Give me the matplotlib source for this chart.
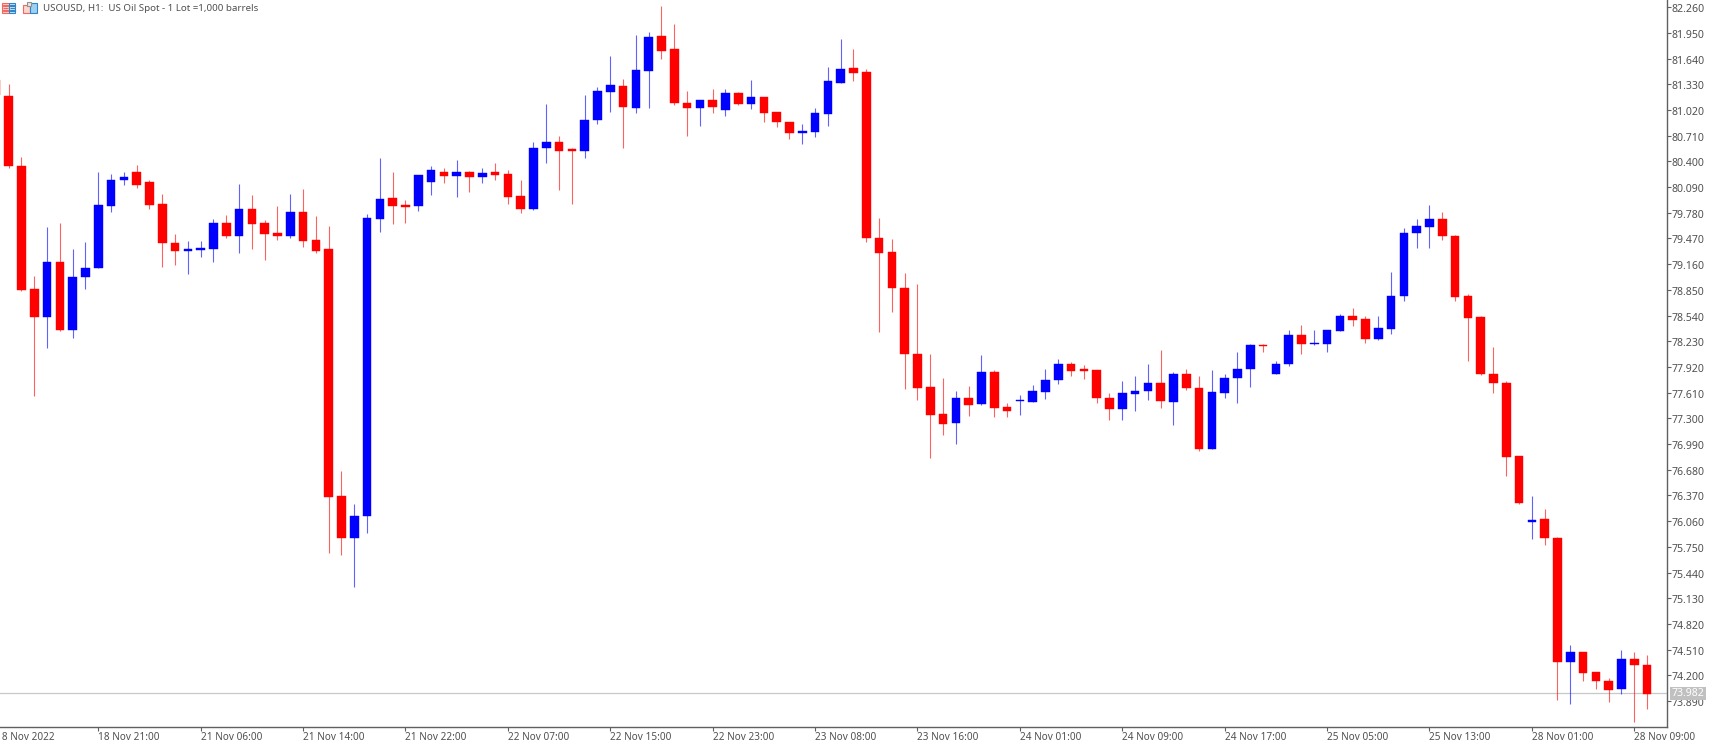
import matplotlib
matplotlib.use("Agg")
import matplotlib.pyplot as plt
from matplotlib.patches import Rectangle
from matplotlib.transforms import ScaledTranslation

# first candle is the one cut off at the left edge
opens = [81.38, 81.19, 80.34, 78.86, 78.52, 79.18, 78.36, 79.00, 79.11, 79.86,
         80.17, 80.27, 80.15, 79.88, 79.41, 79.32, 79.33, 79.34, 79.65, 79.50,
         79.83, 79.65, 79.53, 79.50, 79.79, 79.45, 79.34, 76.36, 75.86, 76.12,
         79.71, 79.96, 79.87, 79.86, 80.15, 80.27, 80.22, 80.27, 80.21, 80.27,
         80.25, 79.98, 79.82, 80.56, 80.63, 80.55, 80.53, 80.90, 81.24, 81.31,
         81.04, 81.49, 81.91, 81.75, 81.10, 81.04, 81.14, 81.02, 81.23, 81.09,
         81.17, 80.99, 80.87, 80.74, 80.75, 80.97, 81.34, 81.52, 81.48, 79.48,
         79.31, 78.87, 78.08, 77.68, 77.35, 77.24, 77.55, 77.47, 77.86, 77.44,
         77.51, 77.50, 77.62, 77.76, 77.95, 77.89, 77.88, 77.55, 77.41, 77.59,
         77.63, 77.73, 77.50, 77.84, 77.67, 76.93, 77.61, 77.79, 77.89, 78.19,
         77.84, 77.95, 78.30, 78.20, 78.20, 78.35, 78.53, 78.50, 78.26, 78.38,
         78.77, 79.53, 79.61, 79.71, 79.50, 78.78, 78.52, 77.83, 77.73, 76.84,
         76.05, 76.08, 75.86, 74.36, 74.48, 74.24, 74.13, 74.03, 74.40, 74.32]
closes = [81.20, 80.34, 78.85, 78.52, 79.19, 78.37, 79.01, 79.11, 79.87, 80.18,
          80.21, 80.11, 79.87, 79.41, 79.32, 79.34, 79.35, 79.65, 79.50, 79.83,
          79.64, 79.52, 79.50, 79.79, 79.44, 79.32, 76.35, 75.86, 76.12, 79.72,
          79.95, 79.86, 79.85, 80.23, 80.30, 80.22, 80.27, 80.21, 80.26, 80.24,
          79.97, 79.82, 80.56, 80.63, 80.52, 80.52, 80.90, 81.25, 81.32, 81.05,
          81.50, 81.90, 81.73, 81.10, 81.04, 81.14, 81.05, 81.22, 81.09, 81.17,
          80.98, 80.87, 80.74, 80.76, 80.98, 81.37, 81.51, 81.47, 79.48, 79.30,
          78.87, 78.08, 77.67, 77.34, 77.23, 77.55, 77.46, 77.86, 77.43, 77.39,
          77.52, 77.63, 77.76, 77.95, 77.87, 77.87, 77.55, 77.41, 77.61, 77.63,
          77.73, 77.51, 77.84, 77.66, 76.93, 77.62, 77.79, 77.90, 78.19, 78.17,
          77.96, 78.30, 78.20, 78.21, 78.36, 78.53, 78.48, 78.26, 78.39, 78.78,
          79.54, 79.62, 79.71, 79.50, 78.76, 78.51, 77.83, 77.73, 76.83, 76.28,
          76.07, 75.86, 74.36, 74.48, 74.23, 74.13, 74.02, 74.40, 74.32, 73.98]
highs = [81.38, 81.33, 80.45, 79.02, 79.61, 79.65, 79.34, 79.43, 80.27, 80.25,
         80.27, 80.36, 80.17, 80.01, 79.52, 79.44, 79.44, 79.70, 79.75, 80.13,
         79.99, 79.69, 79.86, 80.00, 80.07, 79.74, 79.62, 76.66, 76.27, 79.77,
         80.44, 80.27, 79.93, 80.24, 80.34, 80.32, 80.42, 80.28, 80.32, 80.38,
         80.30, 80.17, 80.63, 81.09, 80.71, 80.56, 81.20, 81.30, 81.67, 81.39,
         81.92, 81.96, 82.27, 82.06, 81.25, 81.14, 81.27, 81.27, 81.24, 81.38,
         81.18, 80.99, 80.87, 80.85, 81.04, 81.54, 81.87, 81.75, 81.51, 79.72,
         79.46, 79.05, 78.92, 78.08, 77.79, 77.63, 77.69, 78.06, 77.88, 77.48,
         77.58, 77.70, 77.89, 78.01, 77.98, 77.94, 77.88, 77.61, 77.75, 77.81,
         77.95, 78.13, 77.86, 77.89, 77.81, 77.88, 77.84, 78.10, 78.20, 78.20,
         77.99, 78.36, 78.43, 78.36, 78.37, 78.56, 78.63, 78.53, 78.54, 79.07,
         79.60, 79.71, 79.87, 79.79, 79.51, 78.80, 78.53, 78.16, 77.75, 76.85,
         76.36, 76.21, 75.87, 74.57, 74.48, 74.24, 74.17, 74.51, 74.48, 74.45]
lows = [81.20, 80.32, 78.83, 77.57, 78.15, 78.35, 78.27, 78.86, 79.11, 79.79,
        80.11, 80.08, 79.82, 79.12, 79.15, 79.04, 79.24, 79.18, 79.47, 79.30,
        79.34, 79.21, 79.45, 79.47, 79.37, 79.29, 75.68, 75.65, 75.26, 75.92,
        79.55, 79.64, 79.66, 79.80, 79.99, 80.14, 79.97, 80.03, 80.14, 80.17,
        79.89, 79.78, 79.81, 80.38, 80.05, 79.89, 80.44, 80.85, 80.99, 80.56,
        80.98, 81.04, 81.63, 81.08, 80.70, 80.83, 80.98, 80.95, 81.08, 81.03,
        80.87, 80.81, 80.67, 80.61, 80.69, 80.83, 81.34, 81.37, 79.43, 78.34,
        78.58, 77.65, 77.52, 76.82, 77.10, 76.99, 77.33, 77.46, 77.32, 77.32,
        77.34, 77.50, 77.53, 77.71, 77.81, 77.77, 77.49, 77.28, 77.28, 77.39,
        77.52, 77.42, 77.22, 77.64, 76.91, 76.93, 77.55, 77.49, 77.68, 78.10,
        77.83, 77.93, 78.08, 78.18, 78.10, 78.35, 78.41, 78.21, 78.24, 78.32,
        78.72, 79.35, 79.36, 79.45, 78.72, 77.99, 77.82, 77.61, 76.60, 76.27,
        75.84, 75.77, 73.90, 73.85, 74.13, 74.04, 73.88, 73.98, 73.64, 73.79]

price_ticks = ["73.890", "74.200", "74.510", "74.820", "75.130", "75.440", "75.750", "76.060",
               "76.370", "76.680", "76.990", "77.300", "77.610", "77.920", "78.230", "78.540",
               "78.850", "79.160", "79.470", "79.780", "80.090", "80.400", "80.710", "81.020",
               "81.330", "81.640", "81.950", "82.260"]
time_labels = ["18 Nov 2022", "18 Nov 21:00", "21 Nov 06:00", "21 Nov 14:00", "21 Nov 22:00",
               "22 Nov 07:00", "22 Nov 15:00", "22 Nov 23:00", "23 Nov 08:00", "23 Nov 16:00",
               "24 Nov 01:00", "24 Nov 09:00", "24 Nov 17:00", "25 Nov 05:00", "25 Nov 13:00",
               "28 Nov 01:00", "28 Nov 09:00"]
last_price = 73.982

W, H = 1718, 746
FONT = "Noto Sans"
GREY = "#505050"

fig = plt.figure(figsize=(W / 100, H / 100), dpi=100)
ax = fig.add_axes([0, 1 - 726.7 / H, 1667.3 / W, 726.7 / H])
ax.set_xlim(0.323, 130.58)
ax.set_ylim(73.58, 82.346)

x = list(range(len(opens)))
for i in x:
    col = "#0000ff" if closes[i] >= opens[i] else "#ff0000"
    ax.vlines(i, lows[i], highs[i], color=col, lw=0.8, alpha=0.62, zorder=2)
    top = max(opens[i], closes[i])
    bot = min(opens[i], closes[i])
    ax.bar(i, top - bot, bottom=bot, width=0.68, color=col, edgecolor=col, lw=0.3, zorder=3)

ax.axhline(last_price, color="#c8c8c8", lw=0.9, zorder=1)

for s in ["top", "left"]:
    ax.spines[s].set_visible(False)
for s in ["right", "bottom"]:
    ax.spines[s].set_color("#606060")
    ax.spines[s].set_linewidth(1.0)

ax.yaxis.tick_right()
ax.set_yticks([float(t) for t in price_ticks])
ax.set_yticklabels(price_ticks, fontname=FONT, fontsize=7.6, color=GREY)
ax.tick_params(axis="y", length=3, width=0.8, color="#606060", pad=0.2)
# labels sit about a pixel lower than the tick
nudge = ScaledTranslation(0, -1 / 100, fig.dpi_scale_trans)
for lab in ax.get_yticklabels():
    lab.set_transform(lab.get_transform() + nudge)

time_x = list(range(0, len(opens), 8))
ax.set_xticks(time_x[1:])
ax.set_xticklabels([])
ax.tick_params(axis="x", length=3, width=0.8, color="#606060", direction="out")
trans = ax.get_xaxis_transform()
for pos, lab in zip(time_x, time_labels):
    ax.text(pos, -0.0072, lab, transform=trans, ha="left", va="top", fontname=FONT,
            fontsize=7.2, color=GREY, clip_on=False)

# last price box on the scale
ax.annotate(f"{last_price:.3f}", xy=(1.0, last_price), xycoords=ax.get_yaxis_transform(),
            xytext=(3, 0), textcoords="offset points", ha="left", va="center",
            fontname=FONT, fontsize=7.6, color="#ffffff", annotation_clip=False, zorder=6,
            bbox=dict(boxstyle="square,pad=0.12", fc="#c0c0c0", ec="none"))

fig.text(43 / W, 1 - 8.5 / H, "USOUSD, H1:  US Oil Spot - 1 Lot =1,000 barrels", ha="left", va="center",
         fontname=FONT, fontsize=7.0, color=GREY)


def px_rect(x0, y0, w, h, fc, ec):
    fig.add_artist(Rectangle((x0 / W, 1 - (y0 + h) / H), w / W, h / H, transform=fig.transFigure,
                             fc=fc, ec=ec, lw=0.8))


# the two little toolbar icons next to the title
px_rect(1.5, 3, 7, 10, "#fbd5d0", "#ef6a60")
px_rect(8.5, 3, 7, 10, "#cfe6f6", "#2f85c8")
for yy in [5.5, 8, 10.5]:
    px_rect(2.5, yy, 5, 0.4, "#ef6a60", "#ef6a60")
    px_rect(9.5, yy, 5, 0.4, "#2f85c8", "#2f85c8")
px_rect(23, 5, 6.5, 8, "#fbd5d0", "#ef6a60")
px_rect(30, 3, 6.5, 10, "#9fd0f0", "#2f85c8")
px_rect(27, 2, 4.5, 3.5, "#e8e8e8", "#909090")

fig.savefig("out.png", dpi=100, facecolor="white")
